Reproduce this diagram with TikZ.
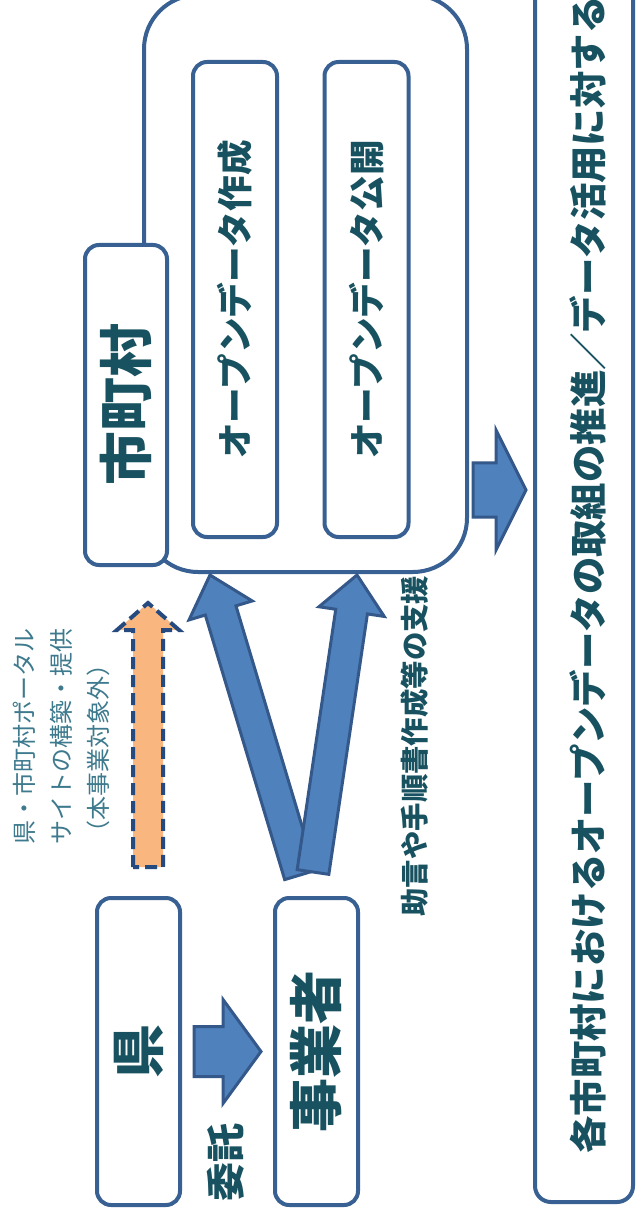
\documentclass[tikz,border=0pt]{standalone}
\usepackage{fontspec}
\setmainfont{Noto Sans CJK JP}
\usetikzlibrary{calc}
\definecolor{lineblue}{RGB}{56,96,146}
\definecolor{fillblue}{RGB}{79,129,189}
\definecolor{arrline}{RGB}{52,88,138}
\definecolor{orangef}{RGB}{249,182,126}
\definecolor{dashblue}{RGB}{36,74,128}
\definecolor{txt}{RGB}{24,82,96}
\definecolor{txtlight}{RGB}{62,122,142}
\newcommand\bkarrow[6]{%
  \coordinate (bk-hb) at ($(#2)!#5!(#1)$);
  \draw[#6] ($(#1)!#3!90:(#2)$) -- ($(bk-hb)!#3!90:(#2)$) -- ($(bk-hb)!#4!90:(#2)$) -- (#2)
    -- ($(bk-hb)!#4!-90:(#2)$) -- ($(bk-hb)!#3!-90:(#2)$) -- ($(#1)!#3!-90:(#2)$) -- cycle;
}
\tikzset{
  box/.style={draw=lineblue, line width=2pt, fill=white, rounded corners=7pt, inner sep=0pt},
  tx/.style={text=txt, font=\bfseries\fontsize{#1}{#1}\selectfont},
  blockar/.style={fill=fillblue, draw=arrline, line width=1.5pt, line join=miter},
}
\begin{document}
\begin{tikzpicture}[x=0.5pt,y=-0.5pt]
\useasboundingbox (0,0) rectangle (637,1218);
\clip (0,0) rectangle (637,1218);
\fill[white] (0,0) rectangle (637,1218);
% container
\node[box, rounded corners=27pt, minimum width=161.5pt, minimum height=288.5pt] (cont) at (305.5,283.5) {};
\node[box, rotate=90, minimum width=160pt, minimum height=41pt, tx=27pt] (city) at (126,405) {市町村};
\node[box, rotate=90, minimum width=237.5pt, minimum height=42pt, tx=17.8pt] (mk1) at (235,299.5) {オープンデータ作成};
\node[box, rotate=90, minimum width=237.5pt, minimum height=42pt, tx=17.8pt] (mk2) at (366.5,299.5) {オープンデータ公開};
% left boxes
\node[box, rotate=90, minimum width=153.5pt, minimum height=41.5pt, tx=27pt] (ken) at (138.5,1051.5) {県};
\node[box, rotate=90, minimum width=153.5pt, minimum height=41.5pt, tx=27pt] (jig) at (316.5,1051.5) {事業者};
% result box
\node[box, rounded corners=8pt, minimum width=49pt, minimum height=611pt] (res) at (584,591) {};
\node[rotate=90, anchor=west, inner sep=0pt, tx=18.7pt] (restxt) at (588,1154) {各市町村におけるオープンデータの取組の推進／データ活用に対する};
% labels
\node[rotate=90, inner sep=0pt, tx=19.5pt] (itaku) at (226,1162) {委託};
\node[rotate=90, inner sep=0pt, tx=14.2pt] (jogen) at (415,746) {助言や手順書作成等の支援};
\node[rotate=90, anchor=west, align=left, inner sep=0pt, text=txtlight, font=\fontsize{12pt}{18.5pt}\selectfont] (portal) at (61,845) {県・市町村ポータル\\サイトの構築・提供\\（本事業対象外）};
% arrows
\coordinate (o1) at (148,867);
\coordinate (o2) at (148,603);
\bkarrow{o1}{o2}{7.5pt}{15.5pt}{13.5pt}{fill=orangef, draw=dashblue, line width=2pt, dash pattern=on 6pt off 3pt, line join=miter}
\coordinate (k1) at ($(ken.south)+(12,0)$);
\coordinate (k2) at ($(jig.north)+(-12,0)$);
\bkarrow{k1}{k2}{12.5pt}{26pt}{19pt}{blockar}
\coordinate (v1s) at ($(jig.east)+(-16.5,-21)$);
\coordinate (v1t) at ($(cont.south)+(-95.5,1)$);
\coordinate (v2s) at ($(jig.east)+(-3.5,-24)$);
\coordinate (v2t) at ($(cont.south)+(51.5,1)$);
\bkarrow{v1s}{v1t}{8pt}{16.5pt}{18.5pt}{blockar}
\bkarrow{v2s}{v2t}{8pt}{16.5pt}{18.5pt}{blockar}
\coordinate (r1) at (473,490);
\coordinate (r2) at ($(res.west |- r1)+(-7,0)$);
\bkarrow{r1}{r2}{13.5pt}{30pt}{15pt}{blockar}
\end{tikzpicture}
\end{document}
